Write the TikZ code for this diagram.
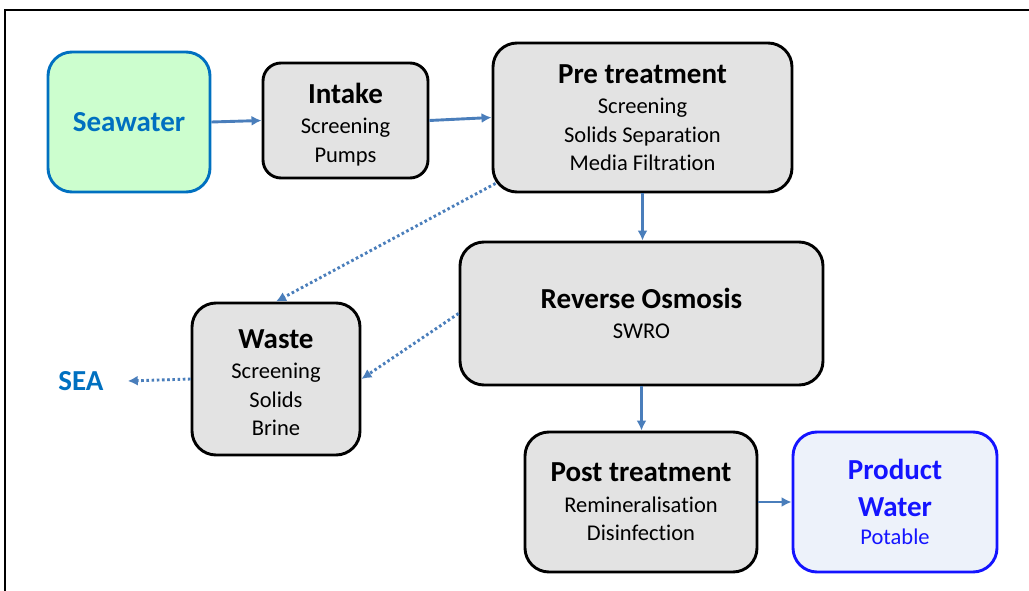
\documentclass[tikz,border=0pt]{standalone}
\usepackage{fontspec}
\setmainfont{Carlito}[Ligatures={NoCommon}]
\usetikzlibrary{arrows.meta}
\definecolor{gfill}{HTML}{E3E3E3}
\definecolor{seafill}{HTML}{CCFECE}
\definecolor{seablue}{HTML}{0070C0}
\definecolor{prodfill}{HTML}{EDF2FA}
\definecolor{prodblue}{HTML}{1414FF}
\definecolor{flowc}{HTML}{4A7EBB}
\newcommand{\ttl}[1]{{\fontsize{29}{30}\selectfont\bfseries #1}}
\begin{document}
\begin{tikzpicture}[x=1pt,y=-1pt,
  box/.style={draw=black,line width=2.9pt,fill=gfill,rounded corners=20pt,align=center,
    font=\fontsize{22.5}{28.5}\selectfont,inner sep=0pt},
  flow/.style={draw=flowc,line width=2.9pt,-{Latex[length=10pt,width=10pt]}},
  waste/.style={draw=flowc,line width=2.9pt,dash pattern=on 2.6pt off 2.6pt,-{Latex[length=10pt,width=10pt]}}]
\useasboundingbox (0,0) rectangle (1029,591);
\draw[line width=2.2pt] (1029,10) -- (5,10) -- (5,591);
\node[box,draw=seablue,fill=seafill,text=seablue,minimum width=162pt,minimum height=140pt,rounded corners=24pt] (sea) at (129,122) {\ttl{Seawater}};
\node[box,minimum width=165pt,minimum height=115pt,rounded corners=18pt] (intake) at (345.5,120.5) {\rule{0pt}{28pt}\ttl{Intake}\\[2pt]Screening\\Pumps};
\node[box,minimum width=299pt,minimum height=149pt,rounded corners=24pt] (pre) at (642.5,117.5) {\ttl{Pre treatment}\\[2pt]Screening\\Solids Separation\\Media Filtration};
\node[box,minimum width=363pt,minimum height=143pt,rounded corners=24pt] (ro) at (641.5,313.5) {\ttl{Reverse Osmosis}\\[2pt]SWRO};
\node[box,minimum width=168pt,minimum height=152pt,rounded corners=24pt] (wst) at (276,379) {\rule{0pt}{26pt}\ttl{Waste}\\[2pt]Screening\\Solids\\Brine};
\node[box,minimum width=232pt,minimum height=140pt,rounded corners=24pt] (post) at (641,502) {\ttl{Post treatment}\\[2pt]Remineralisation\\Disinfection};
\node[box,draw=prodblue,fill=prodfill,text=prodblue,minimum width=204pt,minimum height=140pt,rounded corners=24pt] (prod) at (895,502) {\ttl{Product}\\[8pt]\ttl{Water}\\[0pt]Potable};
\node[text=seablue,font=\fontsize{29}{30}\selectfont\bfseries,inner sep=0pt] (seatxt) at (81,381) {SEA};
\draw[flow] (sea.east) -- (intake.west);
\draw[flow] (intake.east) -- (pre.west);
\draw[flow] (pre.south) -- (pre.south |- ro.north);
\draw[flow] (ro.south) -- (ro.south |- post.north);
\draw[flow] (post.east) -- (prod.west);
\draw[waste] ([shift={(4,-10)}]pre.south west) -- (wst.north);
\draw[waste] (ro.west) -- (wst.east);
\draw[waste] (wst.west) -- ([xshift=24pt]seatxt.east);
\end{tikzpicture}
\end{document}
